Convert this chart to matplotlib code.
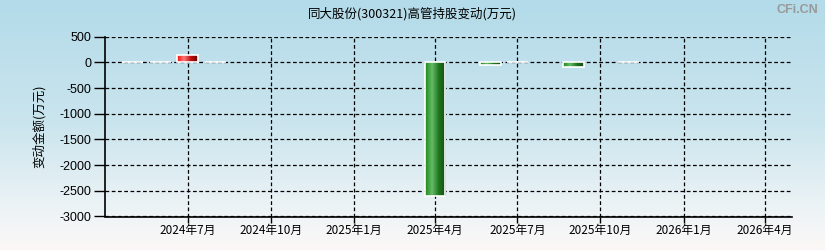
import matplotlib
matplotlib.use("Agg")
import matplotlib.pyplot as plt
import matplotlib.dates as mdates
import numpy as np
from matplotlib.colors import LinearSegmentedColormap
import datetime as dt

plt.rcParams['font.family'] = ['Noto Sans CJK SC', 'DejaVu Sans']

# data
dates = ["2024-05-01", "2024-06-01", "2024-07-01", "2024-08-01",
         "2025-04-01", "2025-06-01", "2025-07-01", "2025-09-01", "2025-11-01"]
values = [0, 0, 150, 0, -2600, -55, 0, -80, 0]
yticks = [500, 0, -500, -1000, -1500, -2000, -2500, -3000]
xtick_dates = ["2024-07-01", "2024-10-01", "2025-01-01", "2025-04-01",
               "2025-07-01", "2025-10-01", "2026-01-01", "2026-04-01"]
xtick_labels = ["2024年7月", "2024年10月", "2025年1月", "2025年4月",
                "2025年7月", "2025年10月", "2026年1月", "2026年4月"]
title = "同大股份(300321)高管持股变动(万元)"
ylabel = "变动金额(万元)"

W, H = 825, 250
fig = plt.figure(figsize=(W / 100, H / 100), dpi=100)

# background gradient
bg = fig.add_axes([0, 0, 1, 1], zorder=-10)
bg_cmap = LinearSegmentedColormap.from_list(
    "bg", [(0.0, "#b3dbe9"), (0.5, "#cbe5ee"), (0.85, "#eef4f6"), (1.0, "#fcf8f6")])
grad = np.linspace(0, 1, 256).reshape(-1, 1)
bg.imshow(grad, aspect="auto", cmap=bg_cmap, extent=[0, 1, 0, 1])
bg.set_axis_off()

ax = fig.add_axes([105.3 / W, 1 - 216.5 / H, (792 - 105.3) / W, (216.5 - 36.8) / H])
ax.patch.set_alpha(0)

x = [mdates.date2num(dt.datetime.strptime(d, "%Y-%m-%d")) for d in dates]
xt = [mdates.date2num(dt.datetime.strptime(d, "%Y-%m-%d")) for d in xtick_dates]

red_cmap = LinearSegmentedColormap.from_list("r", ["#ee1111", "#ff7777", "#c01010", "#6a0000"])
green_cmap = LinearSegmentedColormap.from_list("g", ["#1a881a", "#66bb66", "#1d761d", "#184a18"])
hgrad = np.linspace(0, 1, 64).reshape(1, -1)

width = 23
bars = ax.bar(x, values, width=width, align="center", color="none",
              edgecolor="white", linewidth=1.2, zorder=3)
for b, v in zip(bars, values):
    if v == 0:
        continue
    cm = red_cmap if v > 0 else green_cmap
    x0 = b.get_x()
    im = ax.imshow(hgrad, aspect="auto", cmap=cm,
                   extent=[x0, x0 + b.get_width(), min(0, v), max(0, v)], zorder=2)
    im.set_clip_path(b)

ax.set_xlim(mdates.date2num(dt.datetime(2024, 4, 1)), mdates.date2num(dt.datetime(2026, 5, 1)))
ax.set_ylim(-3000, 500)
ax.set_yticks(yticks)
ax.set_yticklabels([str(t) for t in yticks], family=['Liberation Sans', 'DejaVu Sans'], fontsize=9)
ax.set_xticks(xt)
ax.set_xticklabels(xtick_labels, fontsize=8.5)

ax.grid(True, color="black", linestyle=(0, (3, 2)), linewidth=0.9, zorder=1)
ax.set_axisbelow(True)
for s in ["top", "right"]:
    ax.spines[s].set_visible(False)
for s in ["left", "bottom"]:
    ax.spines[s].set_linewidth(1.2)
    ax.spines[s].set_zorder(4)
ax.tick_params(axis="y", length=8, width=1, pad=2, colors="black")
ax.tick_params(axis="x", length=4, width=1, pad=1.5, colors="black")

ax.set_ylabel(ylabel, fontsize=9, labelpad=10)
fig.text(412 / W, 1 - 14 / H, title, ha="center", va="center", fontsize=9)
fig.text(818 / W, 1 - 10 / H, "CFi.CN", ha="right", va="center", fontsize=9,
         color="#999999", family=['Liberation Sans', 'DejaVu Sans'], fontweight="bold")

fig.savefig("out.png", dpi=100)
